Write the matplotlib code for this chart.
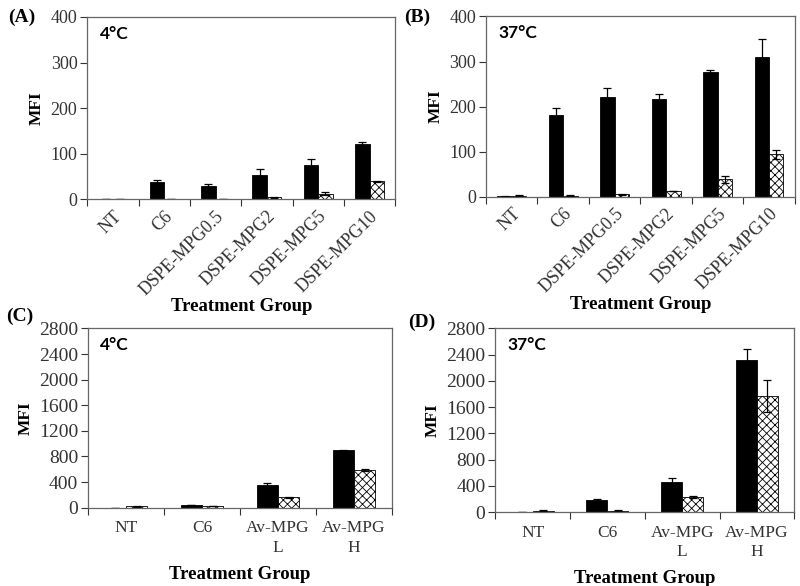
import numpy as np
import matplotlib
matplotlib.use("Agg")
import matplotlib.pyplot as plt

plt.rcParams['font.family'] = ['Liberation Serif', 'DejaVu Serif']
plt.rcParams['hatch.linewidth'] = 0.6

# Panel A / B categories (DSPE-MPG series)
dspe_groups = ["NT", "C6", "DSPE-MPG0.5", "DSPE-MPG2", "DSPE-MPG5", "DSPE-MPG10"]
a_black = [1, 37, 29, 53, 75, 121]
a_black_err = [0.5, 5, 4, 13, 13, 5]
a_hatch = [1, 1, 1, 4, 12, 39]
a_hatch_err = [0.3, 0.3, 0.3, 1, 3, 2]

b_black = [1, 181, 222, 216, 277, 311]
b_black_err = [0.5, 16, 19, 11, 5, 40]
b_hatch = [3, 3, 6, 13, 39, 94]
b_hatch_err = [0.5, 0.5, 1, 1, 8, 10]

# Panel C / D categories (Av-MPG series)
av_groups = ["NT", "C6", "Av-MPG\nL", "Av-MPG\nH"]
c_black = [0, 45, 350, 895]
c_black_err = [0, 5, 30, 12]
c_hatch = [20, 25, 160, 588]
c_hatch_err = [3, 3, 10, 12]

d_black = [0, 183, 457, 2310]
d_black_err = [0, 15, 65, 180]
d_hatch = [25, 25, 230, 1770]
d_hatch_err = [3, 3, 15, 250]

fig = plt.figure(figsize=(8, 5.86), dpi=100)

ax_a = fig.add_axes([0.109, 0.660, 0.385, 0.311])
ax_b = fig.add_axes([0.6075, 0.664, 0.386, 0.308])
ax_c = fig.add_axes([0.110, 0.1336, 0.380, 0.306])
ax_d = fig.add_axes([0.619, 0.1258, 0.374, 0.314])

w = 0.28
err_kw = dict(ecolor='black', elinewidth=0.9, capsize=3, capthick=0.9)


def draw_panel(ax, groups, black, black_err, hatch, hatch_err, ymax, step, temp, rotate):
    x = np.arange(len(groups))
    ax.bar(x - w / 2, black, w, color='black', edgecolor='black', linewidth=0.6,
           yerr=black_err, error_kw=err_kw, zorder=2)
    ax.bar(x + w / 2, hatch, w, color='white', edgecolor='black', linewidth=0.6,
           hatch='xxxx', yerr=hatch_err, error_kw=err_kw, zorder=2)
    ax.set_xlim(-0.5, len(groups) - 0.5)
    ax.set_ylim(0, ymax)
    ax.set_yticks(np.arange(0, ymax + 1, step))
    ax.set_xticks(x)
    if rotate:
        ax.tick_params(axis='y', labelsize=13, length=5, width=0.8, pad=2, colors='#333333')
        ax.set_xticklabels(groups, rotation=45, ha='right', rotation_mode='anchor', fontsize=13)
        ax.tick_params(axis='x', which='major', length=0, pad=6, colors='#333333')
        xpad = 0
    else:
        ax.tick_params(axis='y', labelsize=14, length=5, width=0.8, pad=2, colors='#333333')
        ax.set_xticklabels(groups, fontsize=12.5, linespacing=1.3)
        ax.tick_params(axis='x', which='major', length=0, pad=9, colors='#333333')
        xpad = 7
    ax.set_xticks(np.arange(len(groups) + 1) - 0.5, minor=True)
    ax.tick_params(axis='x', which='minor', length=5, width=0.8, color='#333333')
    for s in ax.spines.values():
        s.set_color('#666666')
        s.set_linewidth(0.9)
    ax.set_ylabel("MFI", fontsize=12.5, fontweight='bold', labelpad=4)
    ax.set_xlabel("Treatment Group", fontsize=13.5, fontweight='bold', labelpad=xpad)
    ax.text(0.04, 0.95, temp, transform=ax.transAxes, ha='left', va='top',
            fontsize=12.5, fontweight='bold', family=['Lato', 'DejaVu Sans'])


draw_panel(ax_a, dspe_groups, a_black, a_black_err, a_hatch, a_hatch_err, 400, 100, "4°C", True)
draw_panel(ax_b, dspe_groups, b_black, b_black_err, b_hatch, b_hatch_err, 400, 100, "37°C", True)
draw_panel(ax_c, av_groups, c_black, c_black_err, c_hatch, c_hatch_err, 2800, 400, "4°C", False)
draw_panel(ax_d, av_groups, d_black, d_black_err, d_hatch, d_hatch_err, 2800, 400, "37°C", False)

# panel letters
for lbl, px, py in [("(A)", 8, 17), ("(B)", 404, 17), ("(C)", 6, 316), ("(D)", 408, 322)]:
    fig.text(px / 800, 1 - py / 586, lbl, ha='left', va='center', fontsize=14, fontweight='bold')

fig.savefig("out.png", dpi=100)
